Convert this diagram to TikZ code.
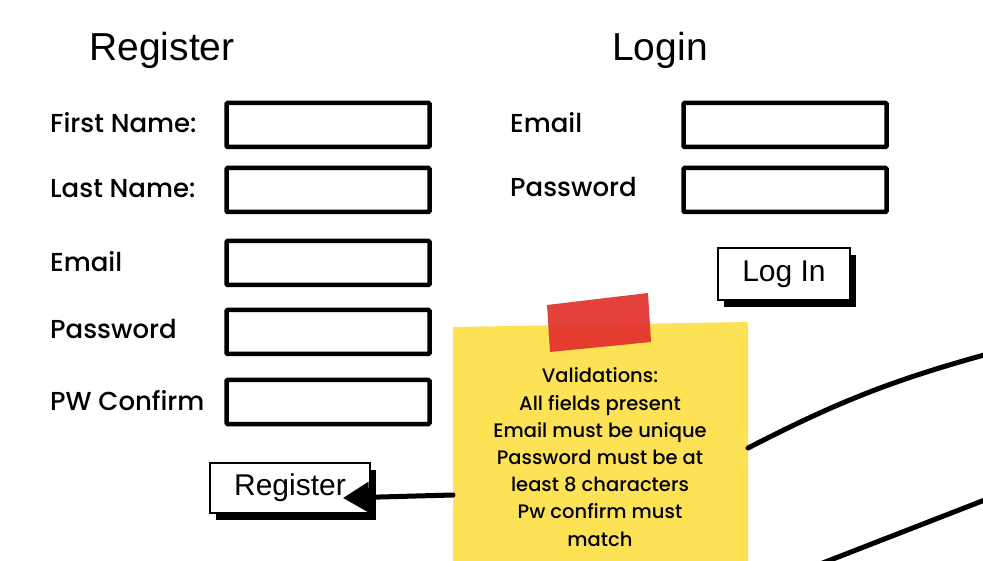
\documentclass[tikz,border=0pt]{standalone}
\usepackage{fontspec}
\setmainfont{Poppins}[UprightFont=* Medium]
\newfontfamily\btnfont{Liberation Sans}
\usetikzlibrary{arrows.meta}
\definecolor{notey}{RGB}{252,226,84}
\definecolor{tapered}{RGB}{226,48,44}

\tikzset{
  field/.style={draw, line width=4.5pt, rounded corners=1pt, fill=white,
    minimum width=203pt, minimum height=44pt},
  lbl/.style={anchor=west, inner sep=0pt, font=\fontsize{26}{28}\selectfont},
  heading/.style={inner sep=0pt, font=\btnfont\fontsize{39}{42}\selectfont},
  btn/.style={draw, line width=2.2pt, fill=white, inner sep=0pt,
    font=\btnfont\fontsize{30}{32}\selectfont,
    preaction={fill=black, transform canvas={shift={(6pt,-7pt)}}}},
  wire/.style={line width=5pt, line cap=round}
}

\begin{document}
\begin{tikzpicture}[x=1pt, y=-1pt]
    \useasboundingbox (0,0) rectangle (983,561);
    \clip (0,0) rectangle (983,561);
    \fill[white] (0,0) rectangle (983,561);

    % register form
    \node[heading] (regtitle) at (162,50) {Register};
    \node[lbl] (fnamelbl) at (50,123) {First Name:};
    \node[lbl] (lnamelbl) at (50,189) {Last Name:};
    \node[lbl] (remaillbl) at (50,262) {Email};
    \node[lbl] (rpwlbl) at (50,329) {Password};
    \node[lbl] (pwclbl) at (50,401) {PW Confirm};
    \node[field] (fname) at (328,125) {};
    \node[field] (lname) at (328,190) {};
    \node[field] (remail) at (328,263) {};
    \node[field] (rpw) at (328,332) {};
    \node[field] (pwc) at (328,402) {};
    \node[btn, minimum width=160pt, minimum height=50pt] (regbtn) at (290,488) {Register};

    % login form
    \node[heading] (logtitle) at (660,50) {Login};
    \node[lbl] (lemaillbl) at (510,123) {Email};
    \node[lbl] (lpwlbl) at (510,187) {Password};
    \node[field] (lemail) at (785,125) {};
    \node[field] (lpw) at (785,190) {};
    \node[btn, minimum width=132pt, minimum height=52pt] (logbtn) at (784,274) {Log In};

    % sticky note
    \fill[notey] (453,327) -- (748,322) -- (748,575) -- (453,575) -- cycle;
    \fill[tapered, opacity=.92] (547,305) -- (648,293) -- (651,342) -- (550,352) -- cycle;
    \node[align=center, inner sep=0pt, font=\fontsize{19.5}{27.2}\selectfont] (note) at (600,457)
      {Validations:\\All fields present\\Email must be unique\\Password must be at\\least 8 characters\\Pw confirm must\\match};
    \coordinate (noteleft) at (453,495);
    \coordinate (noteright) at (748,448);
    \coordinate (regtip) at (343,498);

    % connectors
    \draw[wire, -{Triangle[length=26pt,width=30pt]}] (noteleft) -- (regtip);
    \draw[wire] (noteright) to[bend left=6] (995,352);
    \draw[wire] (815,566) -- (995,496);
\end{tikzpicture}
\end{document}
